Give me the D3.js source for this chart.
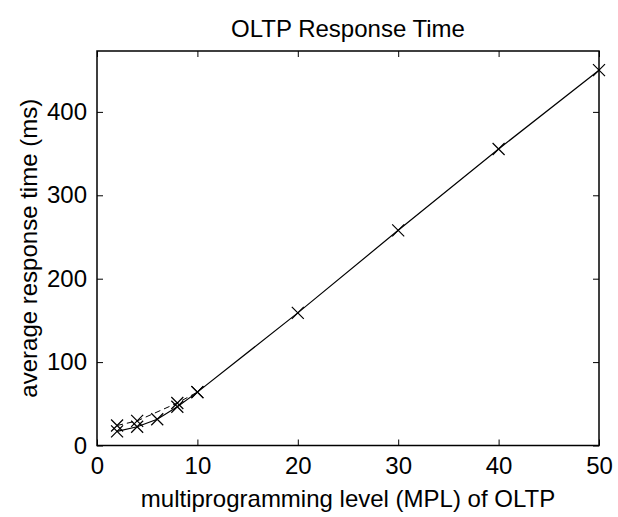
<!DOCTYPE html>
<html>
<head>
<meta charset="utf-8">
<script src="https://cdn.jsdelivr.net/npm/d3@7.9.0/dist/d3.min.js"></script>
<style>
  body { margin: 0; background: #fff; }
  svg { display: block; font-family: "Liberation Sans", Arial, sans-serif; }
</style>
</head>
<body>
<div id="chart"></div>
<script>
// values
const solidMpl = [2, 4, 6, 8, 10, 20, 30, 40, 50];
const solidTime = [17, 22.5, 31.5, 46.5, 64, 159, 258, 355.5, 450];
const dashedMpl = [2, 4, 8, 10];
const dashedTime = [24, 29.5, 51, 64];

const xTicks = [0, 10, 20, 30, 40, 50];
const yTicks = [0, 100, 200, 300, 400];

const width = 618;
const height = 517;
const margin = { top: 51, right: 19, bottom: 71.5, left: 97 };
const fontSize = 24;

const svg = d3.select('#chart')
  .append('svg')
  .attr('width', width)
  .attr('height', height);

const x = d3.scaleLinear()
  .domain([0, 50])
  .range([margin.left, width - margin.right]);

const y = d3.scaleLinear()
  .domain([0, 473])
  .range([height - margin.bottom, margin.top]);

const plotW = width - margin.left - margin.right;
const plotH = height - margin.top - margin.bottom;

// box
svg.append('rect')
  .attr('x', margin.left)
  .attr('y', margin.top)
  .attr('width', plotW)
  .attr('height', plotH)
  .attr('fill', 'none')
  .attr('stroke', '#000')
  .attr('stroke-width', 1.5);

function styleAxis(g, withLabels) {
  g.select('.domain').remove();
  g.selectAll('.tick line').attr('stroke', '#000').attr('stroke-width', 1);
  g.selectAll('.tick text')
    .attr('fill', '#000')
    .style('font-size', fontSize + 'px');
  if (!withLabels) g.selectAll('.tick text').remove();
}

// ticks point inward on all four sides
svg.append('g')
  .attr('transform', `translate(0,${height - margin.bottom})`)
  .call(d3.axisTop(x).tickValues(xTicks).tickSize(6).tickFormat(''))
  .call(styleAxis, false);

svg.append('g')
  .attr('transform', `translate(0,${height - margin.bottom})`)
  .call(d3.axisBottom(x).tickValues(xTicks).tickSize(0).tickPadding(11))
  .call(styleAxis, true)
  .selectAll('.tick text').attr('dy', '0.71em');

svg.append('g')
  .attr('transform', `translate(0,${margin.top})`)
  .call(d3.axisBottom(x).tickValues(xTicks).tickSize(6).tickFormat(''))
  .call(styleAxis, false);

svg.append('g')
  .attr('transform', `translate(${margin.left},0)`)
  .call(d3.axisRight(y).tickValues(yTicks).tickSize(6).tickFormat(''))
  .call(styleAxis, false);

svg.append('g')
  .attr('transform', `translate(${margin.left},0)`)
  .call(d3.axisLeft(y).tickValues(yTicks).tickSize(0).tickPadding(10))
  .call(styleAxis, true);

svg.append('g')
  .attr('transform', `translate(${width - margin.right},0)`)
  .call(d3.axisLeft(y).tickValues(yTicks).tickSize(6).tickFormat(''))
  .call(styleAxis, false);

// lines
const line = d3.line()
  .x((d) => x(d[0]))
  .y((d) => y(d[1]));

const solid = solidMpl.map((m, i) => [m, solidTime[i]]);
const dashed = dashedMpl.map((m, i) => [m, dashedTime[i]]);

svg.append('path')
  .datum(dashed)
  .attr('d', line)
  .attr('fill', 'none')
  .attr('stroke', '#000')
  .attr('stroke-width', 1)
  .attr('stroke-dasharray', '6,4');

svg.append('path')
  .datum(solid)
  .attr('d', line)
  .attr('fill', 'none')
  .attr('stroke', '#000')
  .attr('stroke-width', 1.2);

// x markers
const s = 6;
const cross = (d) => {
  const cx = x(d[0]);
  const cy = y(d[1]);
  return `M${cx - s},${cy - s}L${cx + s},${cy + s}M${cx - s},${cy + s}L${cx + s},${cy - s}`;
};

svg.append('g')
  .selectAll('path')
  .data(solid.concat(dashed))
  .join('path')
  .attr('d', cross)
  .attr('fill', 'none')
  .attr('stroke', '#000')
  .attr('stroke-width', 1.2);

// title and labels
svg.append('text')
  .attr('x', margin.left + plotW / 2)
  .attr('y', 37)
  .attr('text-anchor', 'middle')
  .style('font-size', fontSize + 'px')
  .text('OLTP Response Time');

svg.append('text')
  .attr('x', margin.left + plotW / 2)
  .attr('y', 507)
  .attr('text-anchor', 'middle')
  .style('font-size', fontSize + 'px')
  .text('multiprogramming level (MPL) of OLTP');

svg.append('text')
  .attr('transform', `translate(37,${margin.top + plotH / 2}) rotate(-90)`)
  .attr('text-anchor', 'middle')
  .style('font-size', fontSize + 'px')
  .text('average response time (ms)');
</script>
</body>
</html>
